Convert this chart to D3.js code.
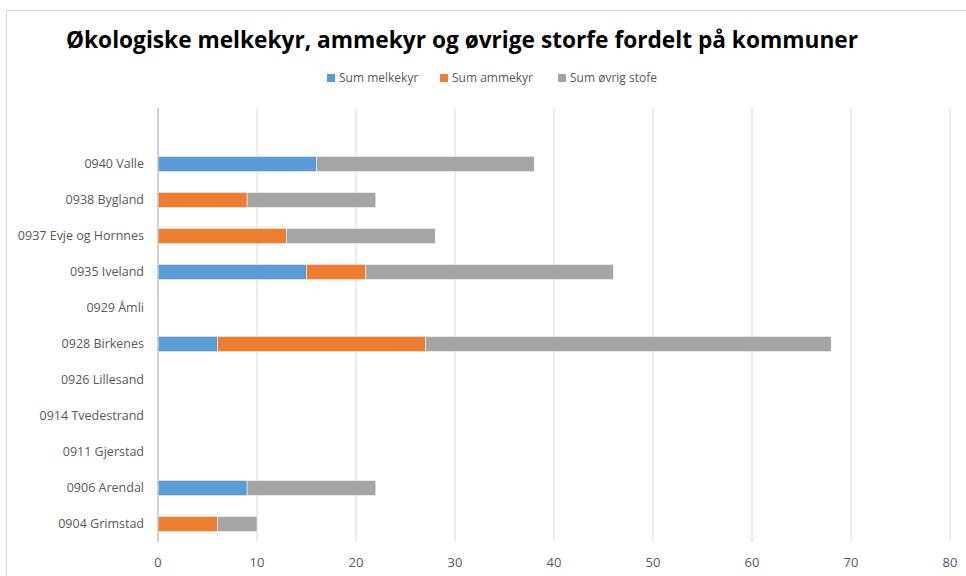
<!DOCTYPE html>
<html>
<head>
<meta charset="utf-8">
<script src="https://cdn.jsdelivr.net/npm/d3@7"></script>
<style>
  body { margin: 0; background: #fff; }
  text { font-family: "Open Sans", "Noto Sans", sans-serif; }
</style>
</head>
<body>
<svg id="chart"></svg>
<script>
var width = 966, height = 576;

var kommuner = ["0940 Valle", "0938 Bygland", "0937 Evje og Hornnes", "0935 Iveland", "0929 Åmli",
  "0928 Birkenes", "0926 Lillesand", "0914 Tvedestrand", "0911 Gjerstad", "0906 Arendal", "0904 Grimstad"];
var melkekyr = [16, 0, 0, 15, 0, 6, 0, 0, 0, 9, 0];
var ammekyr  = [0, 9, 13, 6, 0, 21, 0, 0, 0, 0, 6];
var ovrig    = [22, 13, 15, 25, 0, 41, 0, 0, 0, 13, 4];
var seriesNames = ["Sum melkekyr", "Sum ammekyr", "Sum øvrig stofe"];
var colors = ["#5b9bd5", "#ed7d31", "#a5a5a5"];
var xTicks = [0, 10, 20, 30, 40, 50, 60, 70, 80];

var rows = kommuner.map(function(k, i) {
  return {kommune: k, melk: melkekyr[i], amme: ammekyr[i], ovrig: ovrig[i]};
});

var svg = d3.select("#chart").attr("width", width).attr("height", height);

// chart frame
svg.append("rect")
  .attr("x", 6.5).attr("y", 10.5)
  .attr("width", 980).attr("height", 600)
  .attr("fill", "#fff").attr("stroke", "#d9d9d9");

var x = d3.scaleLinear().domain([0, 80]).range([158, 950]);
var y = d3.scaleBand().domain(kommuner).range([146, 542]).paddingInner(0.58).paddingOuter(0.29);

// gridlines
svg.selectAll(".grid")
  .data(xTicks.slice(1))
  .enter().append("line")
  .attr("x1", function(d) { return x(d); })
  .attr("x2", function(d) { return x(d); })
  .attr("y1", 108).attr("y2", 542)
  .attr("stroke", "#d9d9d9").attr("stroke-width", 1);

var stack = d3.stack().keys(["melk", "amme", "ovrig"]);
var layers = stack(rows);

svg.selectAll(".layer")
  .data(layers)
  .enter().append("g")
  .attr("fill", function(d, i) { return colors[i]; })
  .selectAll("rect")
  .data(function(d) { return d; })
  .enter().append("rect")
  .attr("x", function(d) { return x(d[0]); })
  .attr("y", function(d) { return y(d.data.kommune); })
  .attr("width", function(d) { return x(d[1]) - x(d[0]); })
  .attr("height", y.bandwidth())
  .attr("stroke", function(d) { return d[1] > d[0] ? "#fff" : "none"; })
  .attr("stroke-width", 0.5);

// value axis line
svg.append("line")
  .attr("x1", x(0)).attr("x2", x(0))
  .attr("y1", 108).attr("y2", 542)
  .attr("stroke", "#bfbfbf").attr("stroke-width", 1.5);

// x tick labels
svg.selectAll(".xlab")
  .data(xTicks)
  .enter().append("text")
  .attr("x", function(d) { return x(d); })
  .attr("y", 567)
  .attr("text-anchor", "middle")
  .attr("font-size", 13)
  .attr("fill", "#595959")
  .text(function(d) { return d; });

// category labels
svg.selectAll(".ylab")
  .data(kommuner)
  .enter().append("text")
  .attr("x", 144)
  .attr("y", function(d) { return y(d) + y.bandwidth() / 2; })
  .attr("dy", "0.35em")
  .attr("text-anchor", "end")
  .attr("font-size", 12.5)
  .attr("fill", "#595959")
  .text(function(d) { return d; });

// title
var title = svg.append("text")
  .attr("x", 462).attr("y", 48)
  .attr("text-anchor", "middle")
  .attr("font-size", 23)
  .attr("font-weight", "bold")
  .attr("fill", "#000")
  .text("Økologiske melkekyr, ammekyr og øvrige storfe fordelt på kommuner");
var tw = title.node().getComputedTextLength();
if (tw > 792) title.attr("textLength", 792).attr("lengthAdjust", "spacingAndGlyphs");

// legend
var legendX = [327, 440, 558];
var legend = svg.selectAll(".legend")
  .data(seriesNames)
  .enter().append("g")
  .attr("transform", function(d, i) { return "translate(" + legendX[i] + ",74)"; });
legend.append("rect")
  .attr("width", 8).attr("height", 8)
  .attr("fill", function(d, i) { return colors[i]; });
legend.append("text")
  .attr("x", 12).attr("y", 4)
  .attr("dy", "0.35em")
  .attr("font-size", 12)
  .attr("fill", "#595959")
  .text(function(d) { return d; });
</script>
</body>
</html>
